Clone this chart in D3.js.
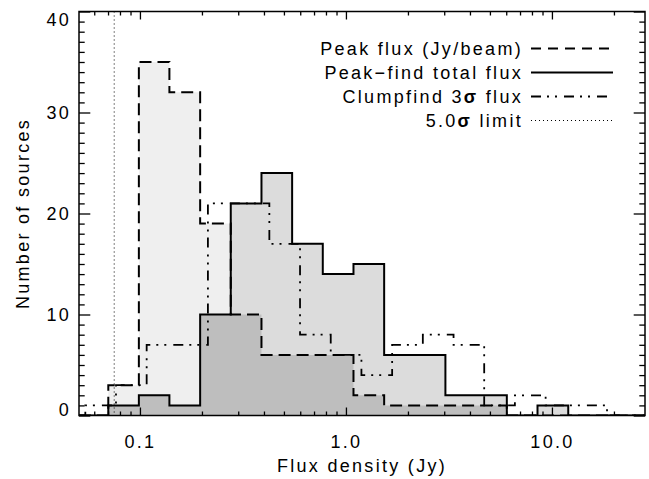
<!DOCTYPE html>
<html>
<head>
<meta charset="utf-8">
<script src="https://cdn.jsdelivr.net/npm/d3@7"></script>
<style>
  html, body { margin: 0; padding: 0; background: #fff; }
  svg { display: block; }
  text { font-family: "Liberation Sans", Arial, sans-serif; fill: #000; }
</style>
</head>
<body>
<svg id="chart" width="649" height="479"></svg>
<script>
// Bin edges (Jy) shared by the peak-flux and peak-find histograms
const binEdges = [0.0702, 0.0988, 0.139, 0.196, 0.276, 0.389, 0.548, 0.772,
                  1.088, 1.533, 2.16, 3.04, 4.29, 6.04, 8.51, 12.0];
// Counts per bin
const peakFlux      = [3, 35, 32, 19, 10, 6, 6, 6, 2, 1, 1, 1, 1, 0, 0];
const peakFindTotal = [1, 2, 1, 10, 21, 24, 17, 14, 15, 6, 6, 2, 2, 0, 1];

// Clumpfind 3-sigma fluxes use their own bin edges (Jy)
const clumpEdges = [0.0543, 0.0765, 0.1078, 0.1518, 0.2138, 0.3013, 0.4248, 0.5986,
                    0.8437, 1.189, 1.676, 2.362, 3.33, 4.69, 6.61, 9.32, 13.13, 18.51];
const clumpfind  = [1, 3, 7, 7, 21, 21, 17, 8, 6, 4, 7, 8, 7, 1, 2, 1, 1];

// 5-sigma detection limit (Jy)
const sigmaLimit = 0.075;

// Axis ticks
const xMajorTicks  = [0.1, 1, 10];
const xMajorLabels = ["0.1", "1.0", "10.0"];
const xMinorTicks  = [0.06, 0.07, 0.08, 0.09, 0.2, 0.3, 0.4, 0.5, 0.6, 0.7, 0.8, 0.9,
                      2, 3, 4, 5, 6, 7, 8, 9, 20];
const yMajorTicks  = [0, 10, 20, 30, 40];
const yMinorTicks  = d3.range(0, 41).filter(v => v % 10 !== 0);

// Legend entries
const legendLabels = ["Peak flux (Jy/beam)", "Peak\u2212find total flux", "Clumpfind 3\u03C3 flux", "5.0\u03C3 limit"];

const svg = d3.select("#chart");
const pLeft = 79, pRight = 645, pTop = 11.5, pBottom = 415.5;

const x = d3.scaleLog().domain([0.0506, 28.3]).range([pLeft, pRight]);
const y = d3.scaleLinear().domain([0, 40]).range([pBottom, pTop]);

const FONT = 18, LS = "2.3px";

// Build the outline of a step histogram, starting and ending on the baseline
function steps(edges, counts) {
  const pts = [[x.domain()[0], 0], [edges[0], 0]];
  counts.forEach((c, i) => { pts.push([edges[i], c]); pts.push([edges[i + 1], c]); });
  pts.push([edges[edges.length - 1], 0]);
  pts.push([x.domain()[1], 0]);
  return pts;
}
const line = d3.line().x(d => x(d[0])).y(d => y(d[1]));

svg.append("defs").append("clipPath").attr("id", "plotClip")
  .append("rect").attr("x", pLeft).attr("y", pTop)
  .attr("width", pRight - pLeft).attr("height", pBottom - pTop);

const plot = svg.append("g").attr("clip-path", "url(#plotClip)");

const overlap = peakFlux.map((v, i) => Math.min(v, peakFindTotal[i]));

// Filled areas: peak-flux only, peak-find only, and the overlap of both
plot.append("path").attr("d", line(steps(binEdges, peakFlux)) + "Z").attr("fill", "#efefef");
plot.append("path").attr("d", line(steps(binEdges, peakFindTotal)) + "Z").attr("fill", "#dcdcdc");
plot.append("path").attr("d", line(steps(binEdges, overlap)) + "Z").attr("fill", "#bebebe");

// 5-sigma limit
plot.append("line")
  .attr("x1", x(sigmaLimit)).attr("x2", x(sigmaLimit))
  .attr("y1", pTop).attr("y2", pBottom)
  .attr("stroke", "#000").attr("stroke-width", 1).attr("stroke-dasharray", "1,3");

const dashDot = "10,6,2,6,2,7";

plot.append("path").attr("d", line(steps(clumpEdges, clumpfind)))
  .attr("fill", "none").attr("stroke", "#000").attr("stroke-width", 1.8)
  .attr("stroke-dasharray", dashDot);
plot.append("path").attr("d", line(steps(binEdges, peakFlux)))
  .attr("fill", "none").attr("stroke", "#000").attr("stroke-width", 2)
  .attr("stroke-dasharray", "12,6");
plot.append("path").attr("d", line(steps(binEdges, peakFindTotal)))
  .attr("fill", "none").attr("stroke", "#000").attr("stroke-width", 2);

// Axes: ticks point inward on all four sides
function styleAxis(g) {
  g.select(".domain").remove();
  g.selectAll(".tick line").attr("stroke", "#000").attr("stroke-width", 1.3);
  g.selectAll("text").attr("font-size", FONT).attr("letter-spacing", LS)
    .attr("font-family", "Liberation Sans, Arial, sans-serif").attr("fill", "#000");
}

const xMajLen = 8, xMinLen = 4, yMajLen = 11.3, yMinLen = 5.7;

svg.append("g").attr("transform", `translate(0,${pBottom})`)
  .call(d3.axisBottom(x).tickValues(xMajorTicks).tickSize(-xMajLen).tickPadding(20)
    .tickFormat((d, i) => xMajorLabels[i]))
  .call(styleAxis);
svg.append("g").attr("transform", `translate(0,${pBottom})`)
  .call(d3.axisBottom(x).tickValues(xMinorTicks).tickSize(-xMinLen).tickFormat(""))
  .call(styleAxis);
svg.append("g").attr("transform", `translate(0,${pTop})`)
  .call(d3.axisTop(x).tickValues(xMajorTicks).tickSize(-xMajLen).tickFormat(""))
  .call(styleAxis);
svg.append("g").attr("transform", `translate(0,${pTop})`)
  .call(d3.axisTop(x).tickValues(xMinorTicks).tickSize(-xMinLen).tickFormat(""))
  .call(styleAxis);

const yAxisG = svg.append("g").attr("transform", `translate(${pLeft},0)`)
  .call(d3.axisLeft(y).tickValues(yMajorTicks).tickSize(-yMajLen).tickPadding(8)
    .tickFormat(d3.format("d")))
  .call(styleAxis);
// end labels sit inside the frame's vertical extent
yAxisG.selectAll(".tick text").attr("dy", d => d === 0 ? "-0.02em" : d === 40 ? "0.78em" : "0.32em");

svg.append("g").attr("transform", `translate(${pLeft},0)`)
  .call(d3.axisLeft(y).tickValues(yMinorTicks).tickSize(-yMinLen).tickFormat(""))
  .call(styleAxis);
svg.append("g").attr("transform", `translate(${pRight},0)`)
  .call(d3.axisRight(y).tickValues(yMajorTicks).tickSize(-yMajLen).tickFormat(""))
  .call(styleAxis);
svg.append("g").attr("transform", `translate(${pRight},0)`)
  .call(d3.axisRight(y).tickValues(yMinorTicks).tickSize(-yMinLen).tickFormat(""))
  .call(styleAxis);

// Frame
svg.append("rect").attr("x", pLeft).attr("y", pTop)
  .attr("width", pRight - pLeft).attr("height", pBottom - pTop)
  .attr("fill", "none").attr("stroke", "#000").attr("stroke-width", 1.5);

// Axis titles
svg.append("text").attr("x", (pLeft + pRight) / 2).attr("y", 472)
  .attr("text-anchor", "middle").attr("font-size", FONT).attr("letter-spacing", LS)
  .text("Flux density (Jy)");
svg.append("text").attr("transform", `translate(28.5,${(pTop + pBottom) / 2}) rotate(-90)`)
  .attr("text-anchor", "middle").attr("font-size", FONT).attr("letter-spacing", LS)
  .text("Number of sources");

// Legend
const legendStyles = [
  { dash: "10,7", width: 2 },
  { dash: null, width: 2 },
  { dash: dashDot, width: 1.8 },
  { dash: "1,3", width: 1 }
];
const legend = svg.append("g");
legendLabels.forEach((lab, i) => {
  const cy = 48.5 + i * 24;
  const t = legend.append("text").attr("x", 523).attr("y", cy + 6.5)
    .attr("text-anchor", "end").attr("font-size", FONT).attr("letter-spacing", LS);
  const parts = lab.split("\u03C3");
  parts.forEach((p, j) => {
    t.append("tspan").text(p);
    if (j < parts.length - 1) t.append("tspan").attr("font-weight", "bold").text("\u03C3");
  });
  const ln = legend.append("line").attr("x1", 531).attr("x2", 613)
    .attr("y1", cy).attr("y2", cy)
    .attr("stroke", "#000").attr("stroke-width", legendStyles[i].width);
  if (legendStyles[i].dash) ln.attr("stroke-dasharray", legendStyles[i].dash);
});
</script>
</body>
</html>
